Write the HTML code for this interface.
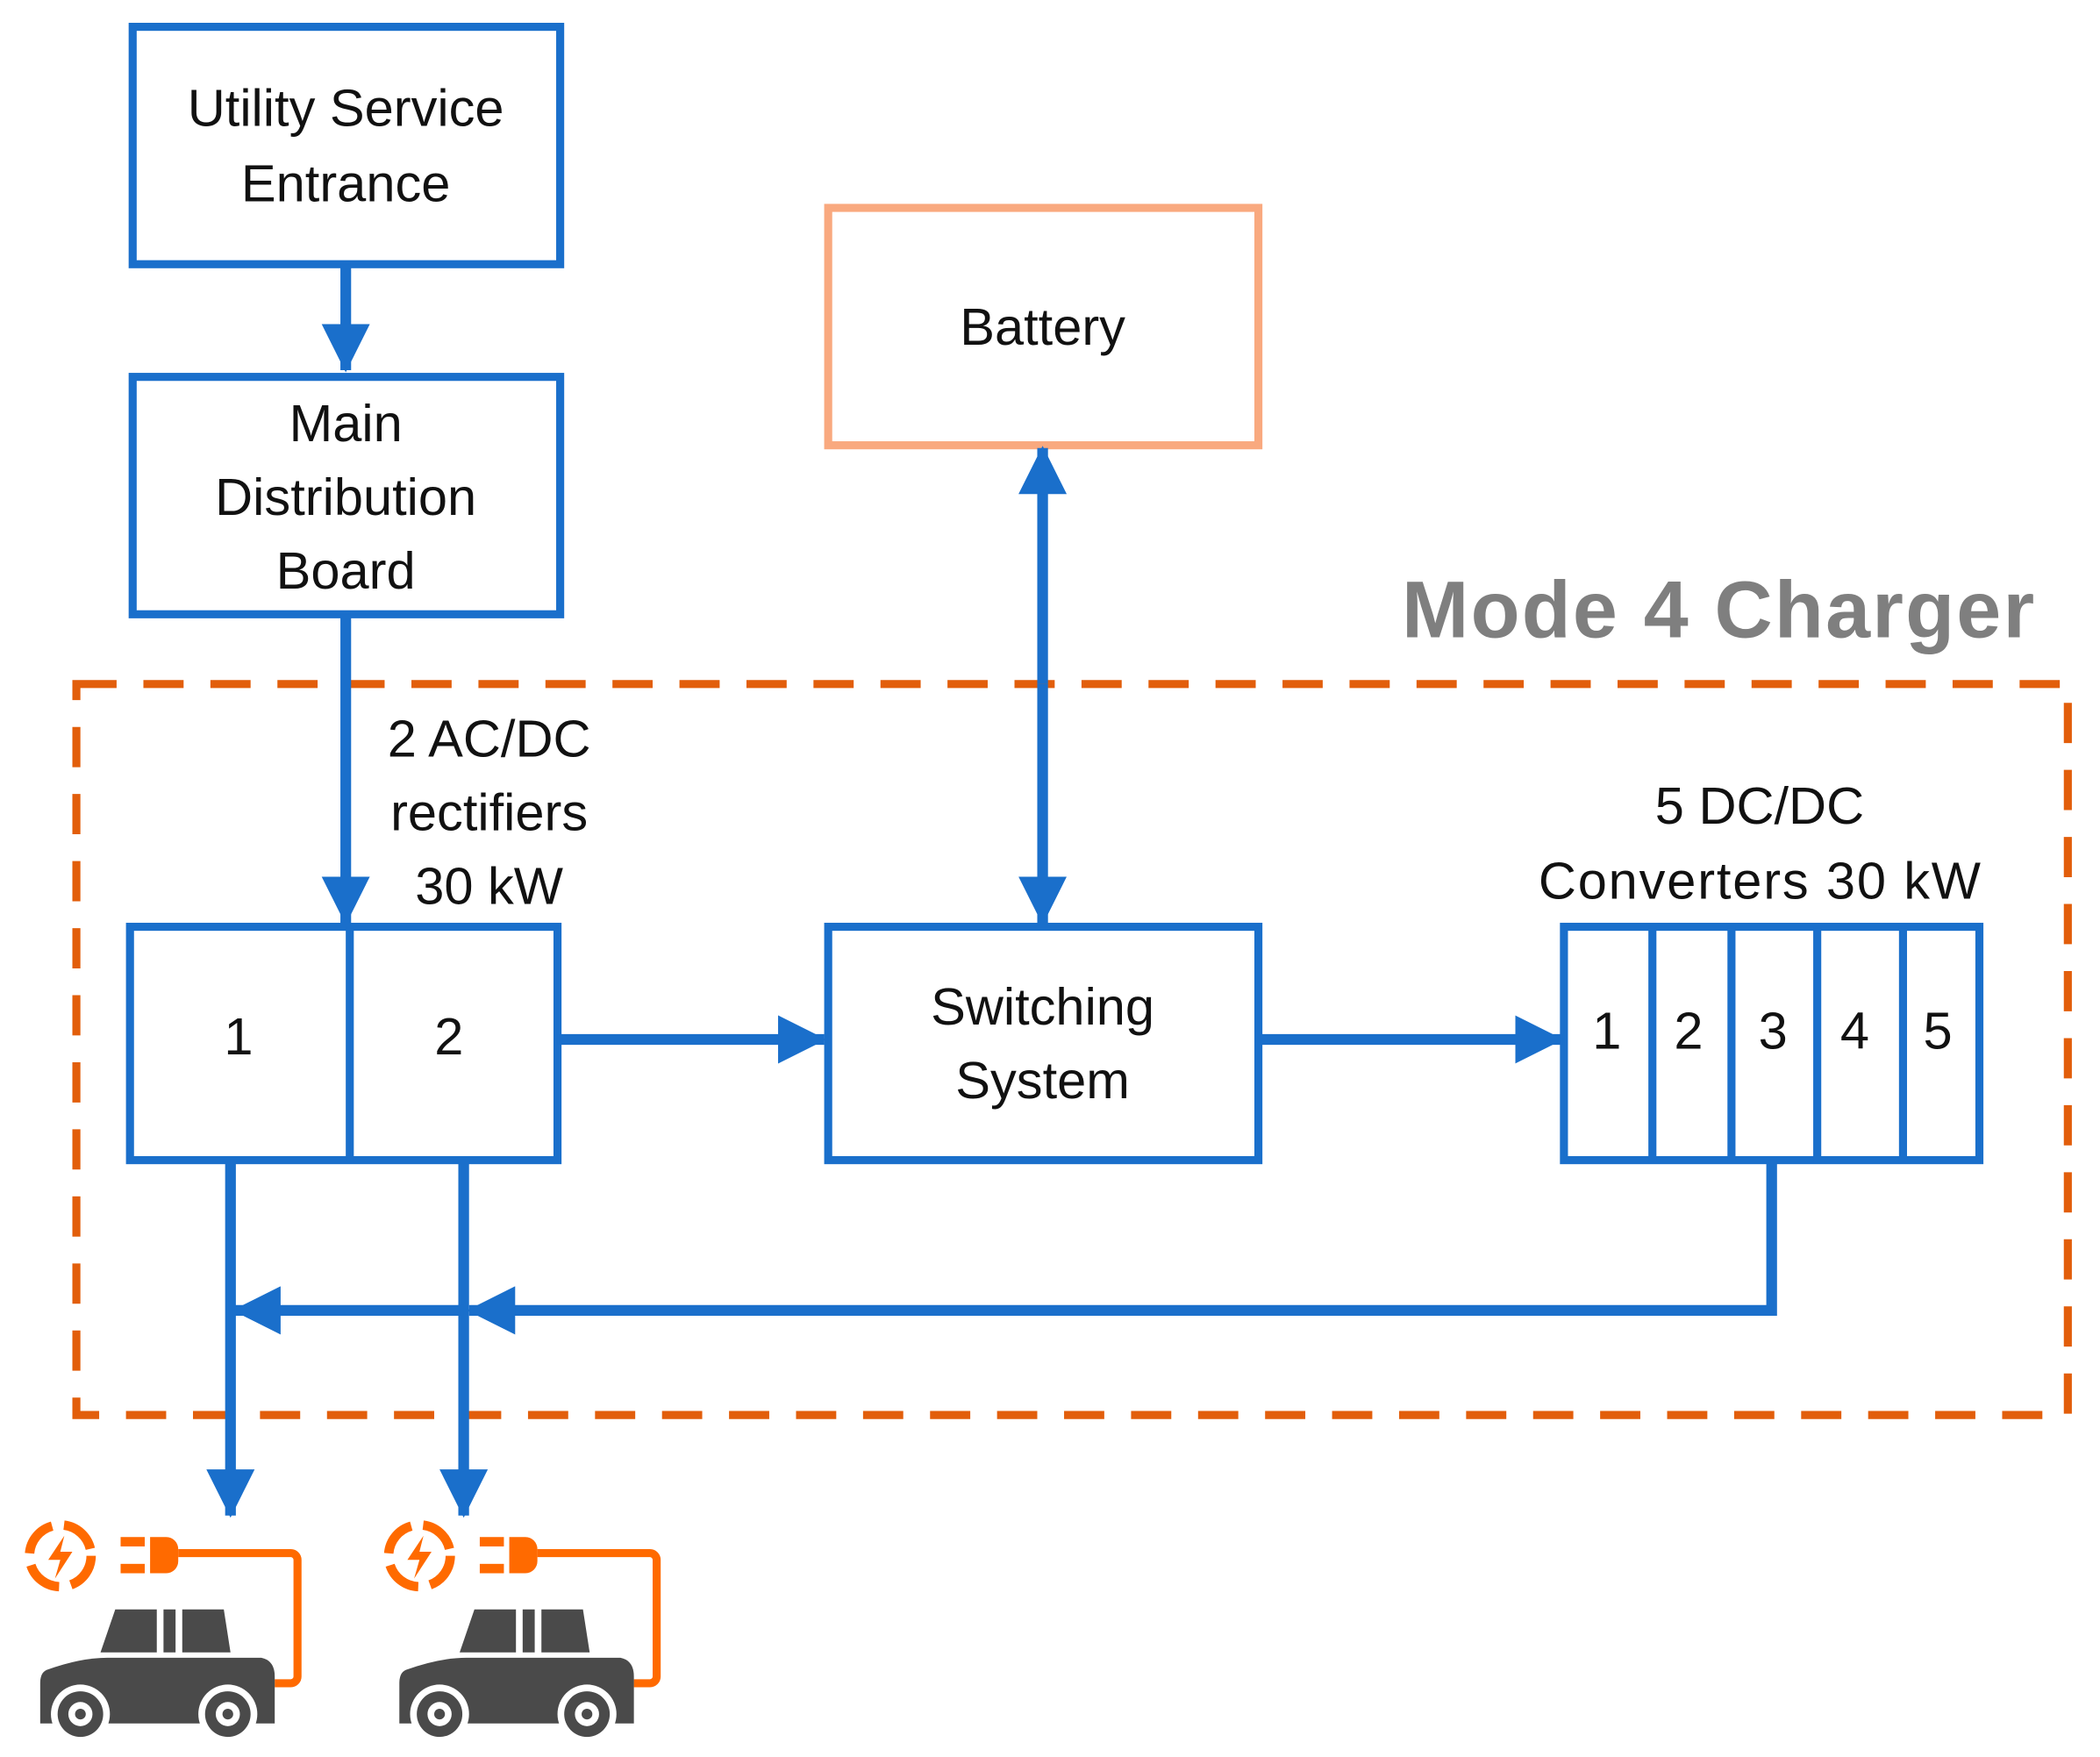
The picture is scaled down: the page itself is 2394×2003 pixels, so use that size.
<!DOCTYPE html>
<html><head><meta charset="utf-8"><style>
html,body{margin:0;padding:0;background:#fff}
svg{display:block}
text{font-family:"Liberation Sans",sans-serif;fill:#111;text-anchor:middle}
</style></head><body>
<svg width="2394" height="2003" viewBox="0 0 1567 1310" preserveAspectRatio="none" xmlns="http://www.w3.org/2000/svg">
<defs>
<marker id="ah" markerWidth="4.5" markerHeight="4.5" refX="4.3" refY="2.25" orient="auto" markerUnits="strokeWidth"><path d="M0,0 L4.5,2.25 L0,4.5 z" fill="#1a6fcb"/></marker>
</defs>
<g fill="none" stroke="#1a6fcb" stroke-width="6">
<rect x="99" y="20" width="319" height="177"/>
<rect x="99" y="281" width="319" height="177"/>
<rect x="97" y="691" width="319" height="174"/>
<line x1="261" y1="691" x2="261" y2="865"/>
<rect x="618" y="691" width="321" height="174"/>
<rect x="1167" y="691" width="310" height="174"/>
<line x1="1233" y1="691" x2="1233" y2="865"/>
<line x1="1292" y1="691" x2="1292" y2="865"/>
<line x1="1356" y1="691" x2="1356" y2="865"/>
<line x1="1420" y1="691" x2="1420" y2="865"/>
</g>
<rect x="618" y="155" width="321" height="177" fill="none" stroke="#f9a97f" stroke-width="6"/>
<rect x="57" y="510" width="1486" height="545" fill="none" stroke="#e25e0b" stroke-width="6" stroke-dasharray="30,20"/>
<g stroke="#1a6fcb" stroke-width="8" fill="none" marker-end="url(#ah)">
<line x1="258" y1="197" x2="258" y2="276"/>
<line x1="258" y1="458" x2="258" y2="688"/>
<line x1="778" y1="510" x2="778" y2="688"/>
<line x1="778" y1="510" x2="778" y2="334"/>
<line x1="416" y1="775" x2="615" y2="775"/>
<line x1="939" y1="775" x2="1165" y2="775"/>
<line x1="172" y1="865" x2="172" y2="1130"/>
<line x1="346" y1="865" x2="346" y2="1130"/>
<polyline points="1322,865 1322,977 350,977"/>
<line x1="346" y1="977" x2="175" y2="977"/>
</g>
<g font-size="39">
<text x="258" y="94">Utility Service</text>
<text x="258" y="150">Entrance</text>
<text x="258" y="329">Main</text>
<text x="258" y="384">Distribution</text>
<text x="258" y="439">Board</text>
<text x="778" y="257">Battery</text>
<text x="365" y="564">2 AC/DC</text>
<text x="365" y="619">rectifiers</text>
<text x="365" y="674">30 kW</text>
<text x="178" y="786">1</text>
<text x="335" y="786">2</text>
<text x="778" y="764">Switching</text>
<text x="778" y="819">System</text>
<text x="1313" y="614">5 DC/DC</text>
<text x="1313" y="670" textLength="330">Converters 30 kW</text>
<text x="1199" y="782">1</text>
<text x="1260" y="782">2</text>
<text x="1323" y="782">3</text>
<text x="1384" y="782">4</text>
<text x="1446" y="782">5</text>
</g>
<text x="1282" y="475" font-size="60" font-weight="bold" textLength="472" style="fill:#7f7f7f">Mode 4 Charger</text>
<g id="car">
<circle cx="45" cy="1160" r="23" fill="none" stroke="#ff6a00" stroke-width="7" stroke-dasharray="28,9"/>
<path d="M48,1145 L36,1163 L45,1163 L41,1177 L54,1157 L45,1157 Z" fill="#ff6a00"/>
<rect x="90" y="1146" width="18" height="7" fill="#ff6a00"/>
<rect x="90" y="1166" width="18" height="7" fill="#ff6a00"/>
<path d="M112,1146 h12 a9,9 0 0 1 9,9 v9 a9,9 0 0 1 -9,9 h-12 z" fill="#ff6a00"/>
<path d="M133,1158 H217 a5,5 0 0 1 5,5 V1250 a5,5 0 0 1 -5,5 H205" fill="none" stroke="#ff6a00" stroke-width="6"/>
<path d="M86,1200 H117 V1232 H75 Z M122,1200 H131 V1232 H122 Z M136,1200 H167 L172,1232 H136 Z" fill="#4a4a4a"/>
<path d="M35,1245 Q60,1236 80,1236 H195 Q205,1238 205,1250 V1285 H30 V1255 Q30,1247 35,1245 Z" fill="#4a4a4a"/>
<circle cx="60" cy="1278" r="22" fill="#fff"/>
<circle cx="170" cy="1278" r="22" fill="#fff"/>
<circle cx="60" cy="1278" r="17" fill="#4a4a4a"/>
<circle cx="60" cy="1278" r="9" fill="#fff"/>
<circle cx="60" cy="1278" r="4" fill="#4a4a4a"/>
<circle cx="170" cy="1278" r="17" fill="#4a4a4a"/>
<circle cx="170" cy="1278" r="9" fill="#fff"/>
<circle cx="170" cy="1278" r="4" fill="#4a4a4a"/>
</g>
<use href="#car" x="268" y="0"/>
</svg>
</body></html>
